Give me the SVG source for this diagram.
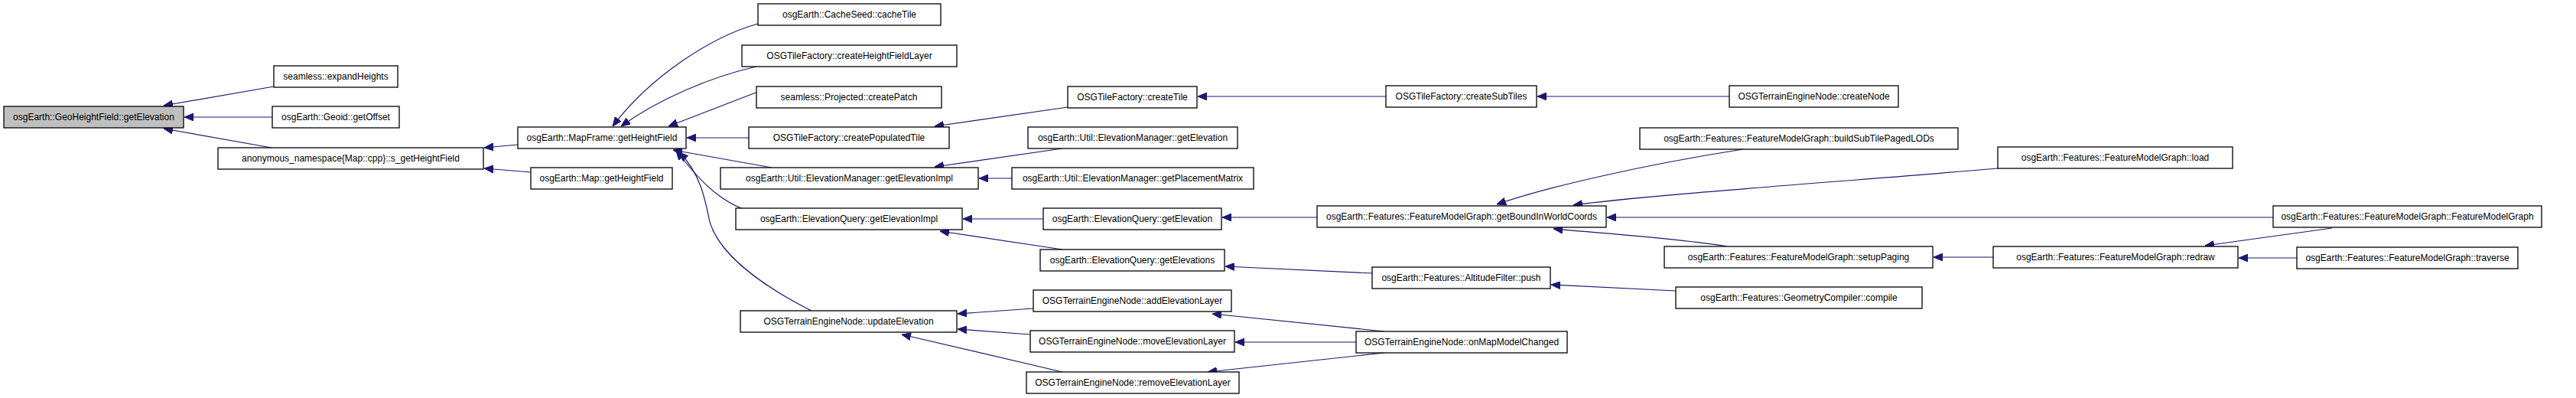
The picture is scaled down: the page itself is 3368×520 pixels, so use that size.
<svg xmlns="http://www.w3.org/2000/svg" width="3368" height="520" viewBox="0 0 3368 520">
<defs>
<marker id="ah" viewBox="0 0 12 10" refX="12" refY="5" markerWidth="12" markerHeight="10" markerUnits="userSpaceOnUse" orient="auto">
<path d="M0,0 L12,5 L0,10 z" fill="#191970" stroke="#191970" stroke-width="1"/>
</marker>
</defs>
<style>
.n rect{fill:#fff;stroke:#000;stroke-width:1.3}
.n.root rect{fill:#bfbfbf}
.n text{font-family:"Liberation Sans",Arial,Helvetica,sans-serif;font-size:12px;fill:#000;text-anchor:middle}
.e path{fill:none;stroke:#191970;stroke-width:1.2;marker-end:url(#ah)}
</style>
<rect width="3368" height="520" fill="#fff"/>
<g id="edges" class="e">
<path d="M358,113 L214,138"/>
<path d="M356,153 L241,153"/>
<path d="M355,193 L214,168"/>
<path d="M677,189 L633,193"/>
<path d="M694,225 L633,220"/>
<path d="M991,31 C930,48 850,100 801,165"/>
<path d="M989,87 C930,100 860,130 812,165"/>
<path d="M1009,113 L874,165"/>
<path d="M979,180 L898,180"/>
<path d="M1009,219 L880,196"/>
<path d="M969,272 C935,258 912,232 884,197"/>
<path d="M1061,406 C990,370 940,330 928,290 C922,260 915,225 888,199"/>
<path d="M1396,140 L1222,165"/>
<path d="M1389,194 L1222,218"/>
<path d="M1323,233 L1280,233"/>
<path d="M1812,126 L1566,126"/>
<path d="M2261,126 L2010,126"/>
<path d="M1364,286 L1259,286"/>
<path d="M1389,326 L1229,302"/>
<path d="M1351,403 L1252,410"/>
<path d="M1347,437 L1252,430"/>
<path d="M1389,486 L1179,437"/>
<path d="M1722,284 L1598,284"/>
<path d="M1794,357 L1602,348"/>
<path d="M1810,433 L1585,410"/>
<path d="M1773,447 L1615,447"/>
<path d="M1810,461 L1579,486"/>
<path d="M2279,195 C2150,215 2020,245 1957,267"/>
<path d="M2612,220 C2400,238 2150,255 2057,268"/>
<path d="M2972,284 L2101,284"/>
<path d="M2258,322 C2200,312 2100,305 2031,299"/>
<path d="M2191,380 L2028,372"/>
<path d="M2606,336 L2528,336"/>
<path d="M3049,298 L2883,321"/>
<path d="M3003,337 L2927,337"/>
</g>
<g id="n1" class="n root"><rect x="5" y="139" width="235" height="28"/><text x="122.5" y="157">osgEarth::GeoHeightField::getElevation</text></g>
<g id="n2" class="n"><rect x="358" y="86" width="162" height="28"/><text x="439" y="104">seamless::expandHeights</text></g>
<g id="n3" class="n"><rect x="356" y="139" width="166" height="28"/><text x="439" y="157">osgEarth::Geoid::getOffset</text></g>
<g id="n4" class="n"><rect x="285" y="193" width="347" height="28"/><text x="458.5" y="211">anonymous_namespace{Map::cpp}::s_getHeightField</text></g>
<g id="n5" class="n"><rect x="677" y="166" width="220" height="28"/><text x="787" y="184">osgEarth::MapFrame::getHeightField</text></g>
<g id="n6" class="n"><rect x="694" y="219" width="185" height="28"/><text x="786.5" y="237">osgEarth::Map::getHeightField</text></g>
<g id="n7" class="n"><rect x="991" y="5" width="239" height="28"/><text x="1110.5" y="23">osgEarth::CacheSeed::cacheTile</text></g>
<g id="n8" class="n"><rect x="970" y="59" width="281" height="28"/><text x="1110.5" y="77">OSGTileFactory::createHeightFieldLayer</text></g>
<g id="n9" class="n"><rect x="989" y="113" width="242" height="28"/><text x="1110" y="131">seamless::Projected::createPatch</text></g>
<g id="n10" class="n"><rect x="979" y="166" width="262" height="28"/><text x="1110" y="184">OSGTileFactory::createPopulatedTile</text></g>
<g id="n11" class="n"><rect x="942" y="219" width="337" height="28"/><text x="1110.5" y="237">osgEarth::Util::ElevationManager::getElevationImpl</text></g>
<g id="n12" class="n"><rect x="962" y="272" width="296" height="28"/><text x="1110" y="290">osgEarth::ElevationQuery::getElevationImpl</text></g>
<g id="n13" class="n"><rect x="968" y="406" width="283" height="28"/><text x="1109.5" y="424">OSGTerrainEngineNode::updateElevation</text></g>
<g id="n14" class="n"><rect x="1396" y="113" width="169" height="28"/><text x="1480.5" y="131">OSGTileFactory::createTile</text></g>
<g id="n15" class="n"><rect x="1344" y="166" width="274" height="28"/><text x="1481" y="184">osgEarth::Util::ElevationManager::getElevation</text></g>
<g id="n16" class="n"><rect x="1323" y="219" width="316" height="28"/><text x="1481" y="237">osgEarth::Util::ElevationManager::getPlacementMatrix</text></g>
<g id="n17" class="n"><rect x="1364" y="272" width="233" height="28"/><text x="1480.5" y="290">osgEarth::ElevationQuery::getElevation</text></g>
<g id="n18" class="n"><rect x="1360" y="326" width="241" height="28"/><text x="1480.5" y="344">osgEarth::ElevationQuery::getElevations</text></g>
<g id="n19" class="n"><rect x="1351" y="379" width="259" height="28"/><text x="1480.5" y="397">OSGTerrainEngineNode::addElevationLayer</text></g>
<g id="n20" class="n"><rect x="1347" y="432" width="267" height="28"/><text x="1480.5" y="450">OSGTerrainEngineNode::moveElevationLayer</text></g>
<g id="n21" class="n"><rect x="1342" y="486" width="278" height="28"/><text x="1481" y="504">OSGTerrainEngineNode::removeElevationLayer</text></g>
<g id="n22" class="n"><rect x="1812" y="112" width="197" height="28"/><text x="1910.5" y="130">OSGTileFactory::createSubTiles</text></g>
<g id="n23" class="n"><rect x="1722" y="269" width="378" height="28"/><text x="1911" y="287">osgEarth::Features::FeatureModelGraph::getBoundInWorldCoords</text></g>
<g id="n24" class="n"><rect x="1794" y="349" width="233" height="28"/><text x="1910.5" y="367">osgEarth::Features::AltitudeFilter::push</text></g>
<g id="n25" class="n"><rect x="1773" y="433" width="276" height="28"/><text x="1911" y="451">OSGTerrainEngineNode::onMapModelChanged</text></g>
<g id="n26" class="n"><rect x="2261" y="112" width="221" height="28"/><text x="2371.5" y="130">OSGTerrainEngineNode::createNode</text></g>
<g id="n27" class="n"><rect x="2144" y="167" width="416" height="28"/><text x="2352" y="185">osgEarth::Features::FeatureModelGraph::buildSubTilePagedLODs</text></g>
<g id="n28" class="n"><rect x="2176" y="322" width="351" height="28"/><text x="2351.5" y="340">osgEarth::Features::FeatureModelGraph::setupPaging</text></g>
<g id="n29" class="n"><rect x="2191" y="375" width="322" height="28"/><text x="2352" y="393">osgEarth::Features::GeometryCompiler::compile</text></g>
<g id="n30" class="n"><rect x="2612" y="192" width="307" height="28"/><text x="2765.5" y="210">osgEarth::Features::FeatureModelGraph::load</text></g>
<g id="n31" class="n"><rect x="2606" y="322" width="320" height="28"/><text x="2766" y="340">osgEarth::Features::FeatureModelGraph::redraw</text></g>
<g id="n32" class="n"><rect x="2972" y="269" width="351" height="28"/><text x="3147.5" y="287">osgEarth::Features::FeatureModelGraph::FeatureModelGraph</text></g>
<g id="n33" class="n"><rect x="3003" y="323" width="289" height="28"/><text x="3147.5" y="341">osgEarth::Features::FeatureModelGraph::traverse</text></g>
</svg>
